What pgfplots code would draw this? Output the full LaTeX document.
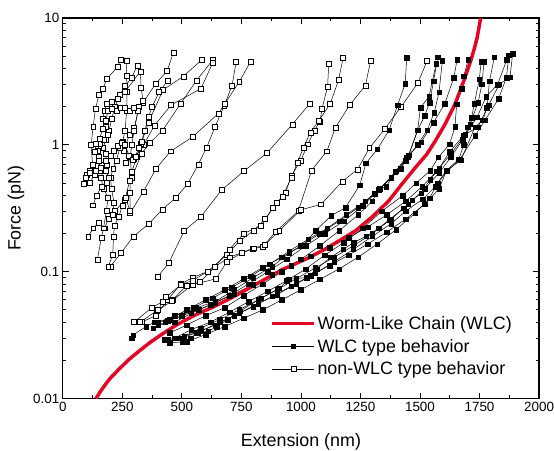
\documentclass[border=0pt]{standalone}
\usepackage{pgfplots}
\pgfplotsset{compat=1.18}
\usepackage{fontspec}
\setmainfont{Liberation Sans}
\usetikzlibrary{calc}
\definecolor{wlcred}{RGB}{226,6,36}
\pgfplotsset{
  wlc/.style={black, line width=0.5pt, mark=square*, mark size=2.3pt, mark options={solid, fill=black, draw=black, line width=0.4pt}},
  nwlc/.style={black, line width=0.5pt, mark=square*, mark size=2.5pt, mark options={solid, fill=white, draw=black, line width=0.5pt}},
}
\begin{document}
\begin{tikzpicture}
\begin{axis}[
  scale only axis, width=478bp, height=382bp,
  xmin=0, xmax=2000, ymin=0.01, ymax=10, ymode=log,
  xtick={0,250,...,2000}, minor x tick num=1,
  ytick={0.01,0.1,1,10}, yticklabels={0.01,0.1,1,10},
  /pgf/number format/assume math mode=true,
  /pgf/number format/1000 sep={},
  tick label style={font=\fontsize{13.5}{16}\selectfont},
  label style={font=\fontsize{18}{20}\selectfont},
  xlabel={Extension (nm)}, ylabel={Force (pN)},
  xlabel style={yshift=-15bp},
  ylabel style={yshift=2bp},
  axis line style={line width=1.2pt},
  major tick length=6bp, minor tick length=3.5bp,
  every tick/.style={black, line width=0.8pt},
  legend style={at={(rel axis cs:0.43,0.226)}, anchor=north west, draw=none, fill=none,
    font=\fontsize{18}{20}\selectfont, row sep=5.5pt, nodes={inner sep=1.5pt}},
  legend cell align=left,
  legend image code/.code={\draw[mark repeat=2,mark phase=2,#1] plot coordinates {(0bp,0bp) (21bp,0bp) (42bp,0bp)};},
]
\addlegendimage{wlcred, line width=3.5pt}
\addlegendentry{Worm-Like Chain (WLC)}
\addlegendimage{wlc}
\addlegendentry{WLC type behavior}
\addlegendimage{nwlc}
\addlegendentry{non-WLC type behavior}

% ---------------- non-WLC (open squares) ----------------
\addplot[nwlc,forget plot] coordinates {(200,0.11)(244,0.14)(297,0.19)(363,0.24)(418,0.31)(473,0.38)(524,0.49)(569,0.70)(604,0.95)(639,1.38)(678,2.04)(711,2.94)(728,4.5)};
\addplot[nwlc,forget plot] coordinates {(283,0.29)(339,0.43)(392,0.65)(453,0.89)(544,1.15)(654,1.77)(680,2.1)(741,3.14)(788,4.5)};
\addplot[nwlc,forget plot] coordinates {(400,0.092)(445,0.117)(510,0.21)(579,0.27)(667,0.44)(760,0.62)(857,0.86)(964,1.45)(1038,2.12)};
\addplot[nwlc,forget plot] coordinates {(290,0.55)(331,0.855)(367,1.04)(419,1.30)(495,2.11)(562,3.22)(629,4.65)};
\addplot[nwlc,forget plot] coordinates {(265,0.72)(300,0.78)(340,1.0)(385,1.42)(455,2.06)(580,2.77)(629,4.4)};
\addplot[nwlc,forget plot] coordinates {(255,0.9)(280,1.2)(300,1.36)(321,1.99)(338,2.16)(391,3.05)(438,3.81)(464,5.3)};
\addplot[nwlc,forget plot] coordinates {(220,0.3)(261,0.37)(289,0.6)(310,0.8)(329,1.02)(360,1.5)(421,2.71)(506,3.46)(582,4.65)};
\addplot[nwlc,forget plot] coordinates {(88,0.49)(100,0.58)(112,0.62)(125,0.70)(119,1.0)(128,1.40)(137,1.92)(152,2.48)(168,2.77)(186,3.32)(229,4.1)(243,4.67)};
\addplot[nwlc,forget plot] coordinates {(107,0.19)(128,0.22)(152,0.245)(175,0.22)(192,0.26)(210,0.28)(215,0.35)(205,0.45)(200,0.55)(212,0.65)(225,0.75)(240,0.95)(250,1.05)(262,1.3)(268,1.85)(270,2.6)(268,3.5)(268,4.57)};
\addplot[nwlc,forget plot] coordinates {(145,0.124)(162,0.184)(171,0.22)(183,0.3)(190,0.38)(172,0.45)(160,0.55)(170,0.62)(185,0.7)(180,0.85)(170,0.95)(180,1.1)(195,1.3)(205,1.6)(220,2.0)(240,2.5)(262,2.9)(290,3.4)(313,4.23)};
\addplot[nwlc,forget plot] coordinates {(127,0.334)(142,0.40)(164,0.47)(185,0.5)(195,0.55)(180,0.62)(165,0.7)(150,0.8)(145,0.9)(155,1.02)(172,1.1)(190,1.2)(180,1.4)(168,1.6)(175,1.85)(185,2.1)(205,2.2)(230,2.3)(260,2.6)(326,3.79)};
\addplot[nwlc,forget plot] coordinates {(191,0.11)(210,0.136)(213,0.19)(217,0.23)(235,0.27)(250,0.33)(264,0.38)(283,0.30)(282,0.42)(283,0.52)(288,0.61)(283,0.8)(290,1.0)(300,1.3)(316,1.87)(337,2.22)(329,2.84)(326,3.79)};
\addplot[nwlc,forget plot] coordinates {(95,0.55)(115,0.6)(135,0.58)(155,0.62)(150,0.75)(135,0.88)(140,1.02)(155,1.12)(168,1.35)(180,1.55)(190,1.85)(205,1.92)(225,1.85)(245,1.95)(262,1.95)(280,1.85)(298,1.95)};
\addplot[nwlc,forget plot] coordinates {(115,0.5)(138,0.62)(160,0.66)(182,0.75)(200,0.82)(215,0.9)(232,0.98)(248,1.03)(262,1.0)(278,0.82)(292,0.76)(305,0.8)(318,0.95)(330,1.05)(345,1.3)(360,1.65)(375,2.0)(405,2.6)(440,3.2)};
\addplot[nwlc,forget plot] coordinates {(330,0.04)(390,0.045)(440,0.06)(496,0.08)(545,0.09)(607,0.1)(689,0.136)(742,0.174)(800,0.21)(850,0.26)(900,0.35)(935,0.42)(961,0.575)(999,0.75)(1029,1.01)(1057,1.30)(1080,1.53)(1089,1.94)(1112,2.87)(1117,4.38)};
\addplot[nwlc,forget plot] coordinates {(300,0.040)(373,0.052)(420,0.058)(462,0.06)(520,0.078)(577,0.083)(640,0.11)(700,0.15)(760,0.2)(833,0.23)(882,0.32)(922,0.39)(960,0.55)(985,0.72)(1010,0.95)(1040,1.25)(1075,1.55)(1123,2.1)(1158,3.24)(1177,4.82)};
\addplot[nwlc,forget plot] coordinates {(396,0.049)(459,0.059)(545,0.079)(644,0.088)(689,0.12)(750,0.14)(797,0.151)(841,0.158)(893,0.206)(989,0.30)(1045,0.63)(1109,0.89)(1145,1.37)(1205,2.06)(1271,2.94)(1293,4.63)};
\addplot[nwlc,forget plot] coordinates {(325,0.04)(400,0.05)(434,0.063)(496,0.079)(545,0.085)(607,0.1)(700,0.13)(800,0.153)(847,0.162)(909,0.21)(1000,0.307)(1085,0.34)(1174,0.515)(1238,0.64)(1287,0.94)(1353,1.34)(1421,2.0)(1491,3.07)(1530,4.59)};

% ---------------- WLC type (filled squares) ----------------
\addplot[wlc,forget plot] coordinates {(430,0.04)(500,0.045)(560,0.052)(640,0.058)(720,0.072)(800,0.09)(880,0.11)(950,0.14)(1006,0.16)(1061,0.21)(1128,0.277)(1187,0.32)(1247,0.48)(1273,0.714)(1321,0.925)(1370,1.3)(1406,2.06)(1438,3.03)(1444,4.85)};
\addplot[wlc,forget plot] coordinates {(400,0.038)(470,0.04)(540,0.047)(620,0.055)(700,0.065)(780,0.08)(860,0.1)(940,0.125)(1020,0.16)(1100,0.2)(1180,0.25)(1260,0.33)(1330,0.45)(1400,0.62)(1450,0.8)(1490,1.3)(1520,1.7)(1540,2.15)(1557,3.18)(1575,4.91)};
\addplot[wlc,forget plot] coordinates {(450,0.033)(520,0.038)(600,0.045)(680,0.052)(760,0.065)(840,0.08)(920,0.1)(1000,0.125)(1080,0.16)(1160,0.21)(1240,0.28)(1300,0.36)(1326,0.443)(1358,0.468)(1396,0.614)(1442,0.796)(1505,1.05)(1557,1.5)(1604,2.11)(1642,3.38)(1656,4.71)};
\addplot[wlc,forget plot] coordinates {(470,0.03)(540,0.035)(620,0.04)(700,0.048)(780,0.058)(860,0.07)(940,0.085)(1020,0.105)(1100,0.135)(1180,0.17)(1260,0.22)(1340,0.3)(1427,0.397)(1484,0.5)(1543,0.625)(1577,0.796)(1624,1.01)(1647,1.39)(1654,2.09)(1675,2.77)(1684,3.48)(1703,4.71)};
\addplot[wlc,forget plot] coordinates {(500,0.03)(580,0.034)(660,0.04)(740,0.047)(820,0.056)(900,0.066)(980,0.08)(1060,0.097)(1140,0.12)(1220,0.15)(1300,0.19)(1380,0.24)(1440,0.3)(1512,0.374)(1564,0.468)(1610,0.625)(1663,0.771)(1684,1.0)(1700,1.38)(1717,1.64)(1728,2.11)(1749,3.28)(1757,4.51)};
\addplot[wlc,forget plot] coordinates {(440,0.029)(510,0.031)(580,0.036)(660,0.042)(740,0.05)(820,0.06)(900,0.072)(980,0.088)(1060,0.107)(1140,0.13)(1220,0.16)(1300,0.2)(1380,0.26)(1450,0.34)(1520,0.45)(1580,0.6)(1630,0.8)(1680,1.1)(1710,1.45)(1744,2.15)(1760,3.0)(1769,4.51)};
\addplot[wlc,forget plot] coordinates {(480,0.03)(560,0.033)(640,0.038)(720,0.045)(800,0.053)(880,0.064)(960,0.077)(1040,0.093)(1120,0.112)(1200,0.135)(1280,0.165)(1360,0.205)(1440,0.26)(1520,0.34)(1580,0.45)(1611,0.625)(1672,0.758)(1731,1.38)(1764,1.56)(1781,1.96)(1792,3.18)(1812,4.91)};
\addplot[wlc,forget plot] coordinates {(520,0.028)(600,0.032)(680,0.037)(760,0.043)(840,0.05)(920,0.06)(1000,0.072)(1080,0.087)(1160,0.105)(1240,0.13)(1320,0.165)(1400,0.215)(1480,0.29)(1540,0.38)(1575,0.5)(1614,0.618)(1668,0.771)(1731,1.18)(1773,1.56)(1830,2.31)(1863,3.38)(1873,5.09)};
\addplot[wlc,forget plot] coordinates {(425,0.029)(450,0.0275)(502,0.028)(537,0.030)(566,0.033)(611,0.034)(647,0.037)(693,0.042)(745,0.049)(834,0.062)(909,0.074)(948,0.087)(1025,0.09)(1066,0.105)(1125,0.13)(1177,0.15)(1222,0.17)(1274,0.19)(1326,0.22)(1371,0.257)(1431,0.316)(1468,0.367)(1505,0.415)(1542,0.53)(1580,0.65)(1624,0.88)(1684,1.19)(1743,1.38)(1788,2.05)(1833,3.0)(1878,3.42)(1889,5.2)};
\addplot[wlc,forget plot] coordinates {(289,0.030)(295,0.0317)(350,0.037)(385,0.04)(440,0.041)(500,0.045)(570,0.05)(640,0.057)(720,0.067)(800,0.079)(880,0.095)(960,0.112)(1040,0.132)(1120,0.155)(1200,0.185)(1280,0.225)(1360,0.28)(1440,0.36)(1510,0.47)(1570,0.62)(1630,0.85)(1690,1.2)(1740,1.65)(1778,2.4)(1826,2.99)(1865,4.71)};
\addplot[wlc,forget plot] coordinates {(380,0.036)(450,0.042)(520,0.05)(600,0.06)(680,0.072)(760,0.088)(840,0.108)(920,0.13)(1000,0.16)(1080,0.2)(1160,0.25)(1240,0.32)(1310,0.41)(1380,0.55)(1440,0.75)(1490,1.0)(1530,1.3)(1560,1.8)(1580,2.6)(1594,4.6)};
\addplot[wlc,forget plot] coordinates {(400,0.04)(470,0.045)(550,0.052)(630,0.062)(710,0.075)(790,0.092)(870,0.115)(950,0.145)(1030,0.18)(1110,0.22)(1190,0.28)(1270,0.36)(1330,0.45)(1380,0.55)(1420,0.65)(1452,0.83)(1490,1.3)(1502,1.96)(1538,2.4)(1568,4.38)};

% ---------------- WLC fit ----------------
\addplot[wlcred, line width=3.5pt, line join=round, no marks, forget plot] coordinates {(139,0.01)(160,0.0115)(180,0.013)(200,0.0145)(238,0.0172)(280,0.0205)(322,0.0238)(370,0.028)(418,0.0323)(477,0.038)(550,0.045)(643,0.054)(727,0.065)(824,0.082)(922,0.104)(1030,0.128)(1100,0.15)(1160,0.175)(1229,0.21)(1299,0.27)(1368,0.36)(1424,0.49)(1480,0.66)(1529,0.845)(1564,1.07)(1605,1.45)(1647,2.09)(1689,3.38)(1717,4.85)(1730,5.9)(1740,7.0)(1755,10)};
\end{axis}
\pgfresetboundingbox
\path[use as bounding box] ($(current axis.south west)+(-63bp,-52bp)$) rectangle ($(current axis.north east)+(15bp,18bp)$);
\end{tikzpicture}
\end{document}
